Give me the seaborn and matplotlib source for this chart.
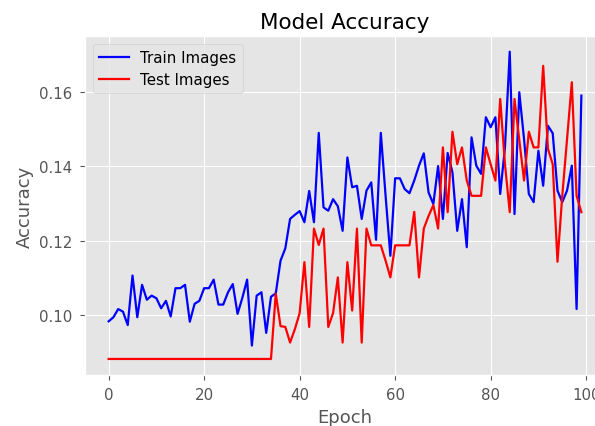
import matplotlib
matplotlib.use("Agg")
import matplotlib.pyplot as plt
import seaborn as sns
import pandas as pd
import numpy as np

epochs = list(range(100))
train_acc = [
    0.0983, 0.0994, 0.1016, 0.1009, 0.0973, 0.1106, 0.0994, 0.1081, 0.1041, 0.1052,
    0.1045, 0.1018, 0.1038, 0.0996, 0.1072, 0.1072, 0.1081, 0.0982, 0.1030, 0.1038,
    0.1072, 0.1072, 0.1095, 0.1028, 0.1028, 0.1061, 0.1083, 0.1003, 0.1046, 0.1095,
    0.0918, 0.1052, 0.1061, 0.0952, 0.1049, 0.1058, 0.1146, 0.1179, 0.1258, 0.1269,
    0.1279, 0.1249, 0.1333, 0.1249, 0.1489, 0.1289, 0.1280, 0.1311, 0.1292, 0.1226,
    0.1423, 0.1343, 0.1347, 0.1258, 0.1334, 0.1356, 0.1202, 0.1489, 0.1320, 0.1159,
    0.1367, 0.1367, 0.1338, 0.1327, 0.1361, 0.1401, 0.1434, 0.1329, 0.1298, 0.1400,
    0.1258, 0.1435, 0.1383, 0.1226, 0.1311, 0.1182, 0.1477, 0.1401, 0.1379, 0.1531,
    0.1504, 0.1531, 0.1325, 0.1450, 0.1707, 0.1271, 0.1598, 0.1472, 0.1325, 0.1303,
    0.1441, 0.1347, 0.1508, 0.1488, 0.1334, 0.1303, 0.1334, 0.1401, 0.1016, 0.1589,
]
test_acc = [0.0882] * 35 + [
    0.1057, 0.0970, 0.0968, 0.0926, 0.0962,
    0.1005, 0.1142, 0.0968, 0.1232, 0.1188, 0.1232, 0.0968, 0.1005, 0.1101, 0.0926,
    0.1142, 0.1012, 0.1232, 0.0926, 0.1232, 0.1187, 0.1187, 0.1187, 0.1146, 0.1101,
    0.1187, 0.1187, 0.1187, 0.1187, 0.1277, 0.1101, 0.1232, 0.1266, 0.1295, 0.1232,
    0.1450, 0.1276, 0.1492, 0.1405, 0.1450, 0.1361, 0.1320, 0.1320, 0.1320, 0.1450,
    0.1405, 0.1361, 0.1580, 0.1405, 0.1276, 0.1580, 0.1470, 0.1361, 0.1492, 0.1450,
    0.1450, 0.1669, 0.1446, 0.1405, 0.1143, 0.1320, 0.1472, 0.1625, 0.1320, 0.1276,
]
series_names = ["Train Images", "Test Images"]
series_colors = ["blue", "red"]

df = pd.DataFrame({
    "Epoch": epochs * 2,
    "Accuracy": train_acc + test_acc,
    "Series": [series_names[0]] * len(train_acc) + [series_names[1]] * len(test_acc),
})

plt.style.use("ggplot")
fig = plt.figure(figsize=(5.95, 4.27), dpi=100)
ax = fig.add_axes([85 / 595, (427 - 375.6) / 427, 520 / 595, 338.2 / 427])

sns.lineplot(data=df, x="Epoch", y="Accuracy", hue="Series",
             palette=dict(zip(series_names, series_colors)),
             linewidth=1.6, ax=ax, legend=True)

ax.set_title("Model Accuracy", fontsize=15.5, color="black")
ax.set_xlabel("Epoch", fontsize=13, color="#555555")
ax.set_ylabel("Accuracy", fontsize=13, color="#555555")
ax.tick_params(labelsize=10.8, colors="#555555", pad=5.5)
ax.set_xticks([0, 20, 40, 60, 80, 100])
ax.set_yticks([0.10, 0.12, 0.14, 0.16])
ax.set_xlim(-4.95, 103.95)
ax.set_ylim(0.0840, 0.1748)

handles, labels = ax.get_legend_handles_labels()
ax.legend(handles=handles, labels=labels, loc="upper left", fontsize=10.8)

fig.savefig("out.png", dpi=100)
